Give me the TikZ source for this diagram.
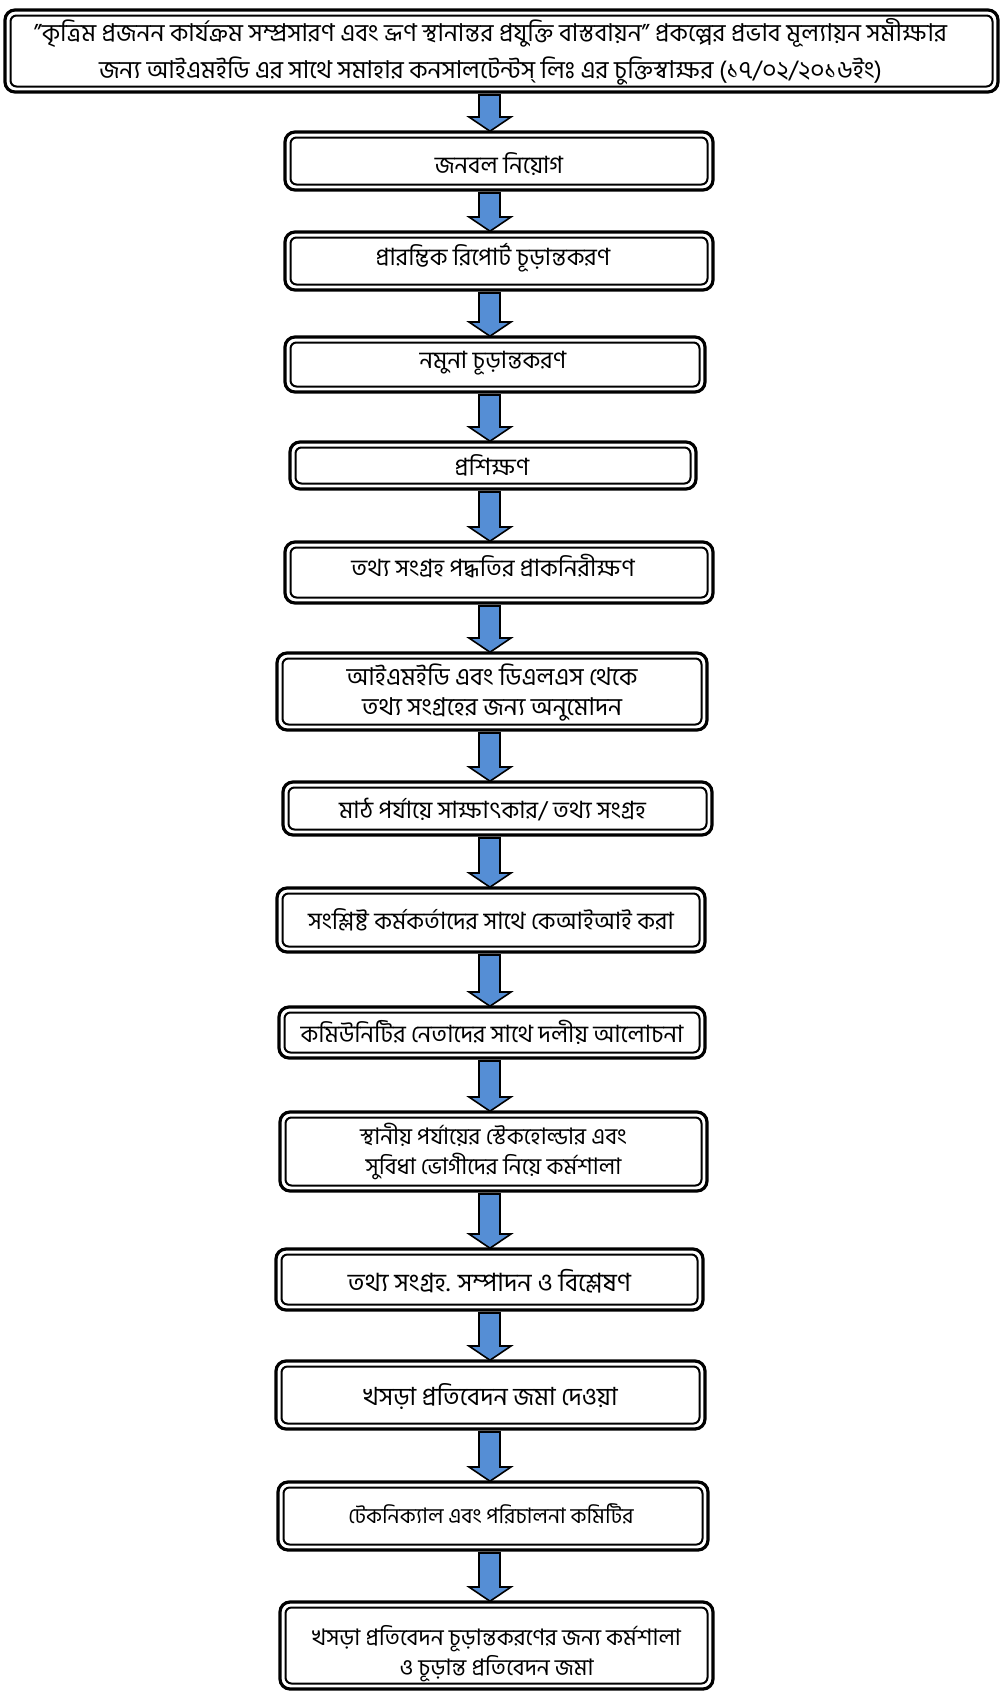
\documentclass[tikz,border=0pt]{standalone}
\usepackage{fontspec}
\setmainfont{Hind Siliguri}[Script=Bengali]
\usetikzlibrary{calc}
\definecolor{arrowblue}{RGB}{85,142,213}
\newcommand\fs[1]{\fontsize{#1}{15}\selectfont}
\tikzset{
  stepbox/.style={draw, line width=1.6pt, rounded corners=5pt, outer sep=0pt,
    inner sep=0pt, fill=white},
  steptext/.style={align=center, inner sep=0pt, font=\fs{11.9}},
  titletext/.style={align=center, inner sep=0pt, font=\fontsize{12.3}{18.5}\selectfont},
  innerline/.style={line width=1pt, rounded corners=3pt},
  barrow/.style={draw, line width=0.8pt, fill=arrowblue, line join=miter},
}
% \mybox[text style]{name}{cx}{cy}{w}{h}{dx}{dy}{text}
\newcommand\mybox[9][steptext]{%
  \node[stepbox, minimum width=0.5pt*#5, minimum height=0.5pt*#6] (#2) at (#3,#4) {};
  \draw[innerline] ([xshift=2.75pt,yshift=-2.75pt]#2.north west) rectangle ([xshift=-2.75pt,yshift=2.75pt]#2.south east);
  \node[#1] (#2-text) at ($(#3,#4)+(#7,#8)$) {#9};}
\newcommand\flowarrow[2]{%
  \draw[barrow] let \p1=(#1.south), \p2=(#2.north) in
   (239.5pt,\y1-1.5pt) -- (250pt,\y1-1.5pt) -- (250pt,\y2+7.5pt) -- (255.5pt,\y2+7.5pt)
   -- (245pt,\y2+0.4pt) -- (234.5pt,\y2+7.5pt) -- (239.5pt,\y2+7.5pt) -- cycle;}
\begin{document}
\begin{tikzpicture}[x=0.5pt,y=-0.5pt]
\useasboundingbox (0,0) rectangle (1000,1692);
\mybox[titletext]{t}{501.5}{51}{993}{82}{-11}{1}{”কৃত্রিম প্রজনন কার্যক্রম সম্প্রসারণ এবং ভ্রূণ স্থানান্তর প্রযুক্তি বাস্তবায়ন” প্রকল্পের প্রভাব মূল্যায়ন সমীক্ষার\\জন্য আইএমইডি এর সাথে সমাহার কনসালটেন্টস্ লিঃ এর চুক্তিস্বাক্ষর (১৭/০২/২০১৬ইং)}
\mybox{b1}{499}{161}{428}{58}{0}{3}{জনবল নিয়োগ}
\mybox{b2}{499}{261}{428}{58}{-6}{-3}{প্রারম্ভিক রিপোর্ট চূড়ান্তকরণ}
\mybox{b3}{495}{364.5}{420}{55}{-2}{-1}{নমুনা চূড়ান্তকরণ}
\mybox{b4}{493}{465.5}{406}{47}{-1}{0}{প্রশিক্ষণ}
\mybox{b5}{499}{572.5}{428}{61}{-6}{-6}{তথ্য সংগ্রহ পদ্ধতির প্রাকনিরীক্ষণ}
\mybox[steptext,font=\fs{12.3}]{b6}{492}{691.5}{430}{77}{0}{1}{আইএমইডি এবং ডিএলএস থেকে\\তথ্য সংগ্রহের জন্য অনুমোদন}
\mybox{b7}{497.5}{808.5}{429}{53}{-5}{1}{মাঠ পর্যায়ে সাক্ষাৎকার/ তথ্য সংগ্রহ}
\mybox{b8}{491}{920}{428}{64}{0}{0}{সংশ্লিষ্ট কর্মকর্তাদের সাথে কেআইআই করা}
\mybox{b9}{492}{1032.5}{426}{51}{0}{0}{কমিউনিটির নেতাদের সাথে দলীয় আলোচনা}
\mybox[steptext,font=\fs{11.4}]{b10}{493.5}{1151.5}{427}{79}{0}{0}{স্থানীয় পর্যায়ের স্টেকহোল্ডার এবং\\সুবিধা ভোগীদের নিয়ে কর্মশালা}
\mybox[steptext,font=\fs{12.6}]{b11}{489.5}{1279.5}{427}{61}{0}{2}{তথ্য সংগ্রহ. সম্পাদন ও বিশ্লেষণ}
\mybox[steptext,font=\fs{12.5}]{b12}{490.5}{1395}{429}{68}{0}{2}{খসড়া প্রতিবেদন জমা দেওয়া}
\mybox[steptext,font=\fs{10.7}]{b13}{493}{1516}{430}{68}{-2}{-2}{টেকনিক্যাল এবং পরিচালনা কমিটির}
\mybox[steptext,font=\fs{11.4}]{b14}{496.5}{1645.5}{433}{87}{0}{8}{খসড়া প্রতিবেদন চূড়ান্তকরণের জন্য কর্মশালা\\ও চূড়ান্ত প্রতিবেদন জমা}
\flowarrow{t}{b1}
\flowarrow{b1}{b2}
\flowarrow{b2}{b3}
\flowarrow{b3}{b4}
\flowarrow{b4}{b5}
\flowarrow{b5}{b6}
\flowarrow{b6}{b7}
\flowarrow{b7}{b8}
\flowarrow{b8}{b9}
\flowarrow{b9}{b10}
\flowarrow{b10}{b11}
\flowarrow{b11}{b12}
\flowarrow{b12}{b13}
\flowarrow{b13}{b14}
\end{tikzpicture}
\end{document}
